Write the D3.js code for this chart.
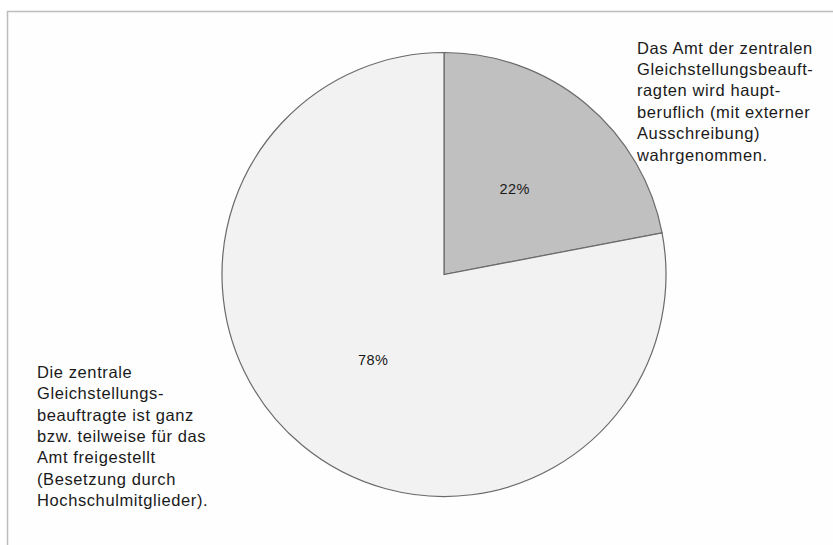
<!DOCTYPE html>
<html><head><meta charset="utf-8">
<script src="https://cdn.jsdelivr.net/npm/d3@7"></script>
<style>html,body{margin:0;padding:0;background:#fff;}svg{display:block;}</style>
</head><body>
<svg id="c" width="833" height="545"></svg>
<script>
const categories = ["hauptberuflich", "freigestellt"];
const values = [22, 78];
const pctLabels = ["22%", "78%"];
const colors = ["#c0c0c0", "#f2f2f2"];
const rightLabel = ["Das Amt der zentralen", "Gleichstellungsbeauft-", "ragten wird haupt-", "beruflich (mit externer", "Ausschreibung)", "wahrgenommen."];
const leftLabel = ["Die zentrale", "Gleichstellungs-", "beauftragte ist ganz", "bzw. teilweise für das", "Amt freigestellt", "(Besetzung durch", "Hochschulmitglieder)."];

const svg = d3.select("#c");
svg.append("rect").attr("x", 7.5).attr("y", 11.5).attr("width", 900).attr("height", 600)
  .attr("fill", "#fefefe").attr("stroke", "#bdbdbd").attr("stroke-width", 1.5);

const cx = 444, cy = 274.5, R = 222;
const pie = d3.pie().sort(null).value(d => d)(values);
const arc = d3.arc().innerRadius(0).outerRadius(R);
const g = svg.append("g").attr("transform", `translate(${cx},${cy})`);
g.selectAll("path").data(pie).join("path")
  .attr("d", arc).attr("fill", (d, i) => colors[i])
  .attr("stroke", "#6a6a6a").attr("stroke-width", 1.2);
g.selectAll("text.pct").data(pie).join("text").attr("class", "pct")
  .attr("transform", d => { const c = arc.centroid(d); return `translate(${c[0]},${c[1]})`; })
  .attr("text-anchor", "middle").attr("dy", "0.35em")
  .style("font-family", "'Liberation Sans', Arial, sans-serif").style("font-size", "14.5px")
  .style("letter-spacing", "0.5px").attr("fill", "#1a1a1a")
  .text((d, i) => pctLabels[i]);

function block(lines, x, y0, lh) {
  const t = svg.append("text").attr("x", x).attr("y", y0)
    .style("font-family", "'Liberation Sans', Arial, sans-serif").style("font-size", "16.5px")
    .style("letter-spacing", "0.6px").attr("fill", "#1a1a1a");
  lines.forEach((l, i) => t.append("tspan").attr("x", x).attr("y", y0 + i * lh).text(l));
}
block(rightLabel, 637, 53.5, 21.4);
block(leftLabel, 37, 378, 21.3);
</script>
</body></html>
